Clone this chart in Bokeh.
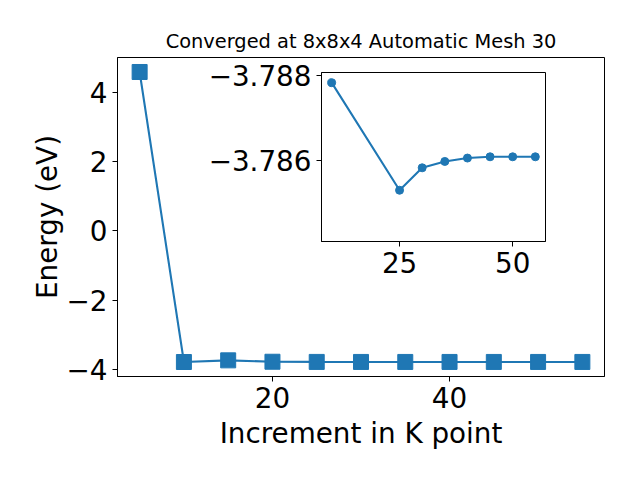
from bokeh.plotting import figure
from bokeh.models import Range1d, FixedTicker, CustomJSTickFormatter
from bokeh.layouts import column
from bokeh.embed import file_html
from bokeh.resources import INLINE

# ---- data ----
kpoints = [5, 10, 15, 20, 25, 30, 35, 40, 45, 50, 55]
energy = [4.58, -3.788, -3.74, -3.78, -3.785, -3.786, -3.786, -3.786, -3.786, -3.786, -3.786]
inset_k = [10, 25, 30, 35, 40, 45, 50, 55]
inset_e = [-3.78784, -3.78530, -3.78583, -3.78598, -3.78606, -3.78609, -3.78609, -3.78609]
main_xticks = [20, 40]
main_yticks = [-4, -2, 0, 2, 4]
inset_xticks = [25, 50]
inset_yticks = [-3.788, -3.786]
title_text = "Converged at 8x8x4 Automatic Mesh 30"
xlabel = "Increment in K point"
ylabel = "Energy (eV)"

BLUE = "#1f77b4"
FONT = "DejaVu Sans"
BIG = "27.8px"


def style_axes(fig):
    fig.xgrid.visible = False
    fig.ygrid.visible = False
    fig.outline_line_color = "black"
    fig.outline_line_width = 1
    fig.outline_line_alpha = 1
    for ax in (fig.xaxis[0], fig.yaxis[0]):
        ax.axis_line_color = "black"
        ax.axis_line_width = 1
        ax.major_tick_in = 0
        ax.major_tick_out = 5
        ax.major_tick_line_color = "black"
        ax.major_tick_line_width = 1
        ax.minor_tick_in = 0
        ax.minor_tick_out = 0
        ax.major_label_text_font = FONT
        ax.major_label_text_font_size = BIG
        ax.major_label_text_color = "black"
        ax.major_label_standoff = 5
        ax.axis_label_text_font = FONT
        ax.axis_label_text_font_size = BIG
        ax.axis_label_text_font_style = "normal"
        ax.axis_label_text_color = "black"


p = figure(width=624, height=464,
           x_range=Range1d(2.5, 57.5), y_range=Range1d(-4.206, 4.998),
           output_backend="svg", toolbar_location=None,
           min_border_left=117, min_border_right=20,
           min_border_top=57, min_border_bottom=88,
           title=title_text)
p.title.text_font = FONT
p.title.text_font_size = "19.4px"
p.title.text_font_style = "normal"
p.title.align = "center"
p.title.text_color = "black"
p.background_fill_color = "white"
p.border_fill_color = "white"
style_axes(p)
p.xaxis.ticker = FixedTicker(ticks=main_xticks)
p.yaxis.ticker = FixedTicker(ticks=main_yticks)
fmt0 = "return tick.toFixed(0).replace('-', '\u2212');"
p.xaxis.formatter = CustomJSTickFormatter(code=fmt0)
p.yaxis.formatter = CustomJSTickFormatter(code=fmt0)
p.xaxis.axis_label = xlabel
p.yaxis.axis_label = ylabel
p.yaxis.axis_label_standoff = 0
p.xaxis.axis_label_standoff = 6

p.line(kpoints, energy, line_width=2.1, color=BLUE)
p.scatter(kpoints, energy, marker="square", size=15, color=BLUE)

# inset: left/right borders equal to the main plot's so column alignment is harmless
inset = figure(width=361, height=238,
               x_range=Range1d(7.75, 57.25), y_range=Range1d(-3.78409, -3.78808),
               output_backend="svg", toolbar_location=None,
               min_border_left=117, min_border_right=20,
               min_border_top=14, min_border_bottom=55,
               styles={"position": "absolute", "left": "203.7px", "top": "58px"})
inset.border_fill_alpha = 0
inset.background_fill_color = "white"
style_axes(inset)
inset.xaxis.ticker = FixedTicker(ticks=inset_xticks)
inset.yaxis.ticker = FixedTicker(ticks=inset_yticks)
inset.xaxis.formatter = CustomJSTickFormatter(code=fmt0)
inset.yaxis.formatter = CustomJSTickFormatter(code="return tick.toFixed(3).replace('-', '\u2212');")
inset.line(inset_k, inset_e, line_width=2.1, color=BLUE)
inset.scatter(inset_k, inset_e, marker="circle", size=8, color=BLUE)

layout = column(p, inset, styles={"position": "relative"})

open("out.html", "w").write(file_html(layout, INLINE))
